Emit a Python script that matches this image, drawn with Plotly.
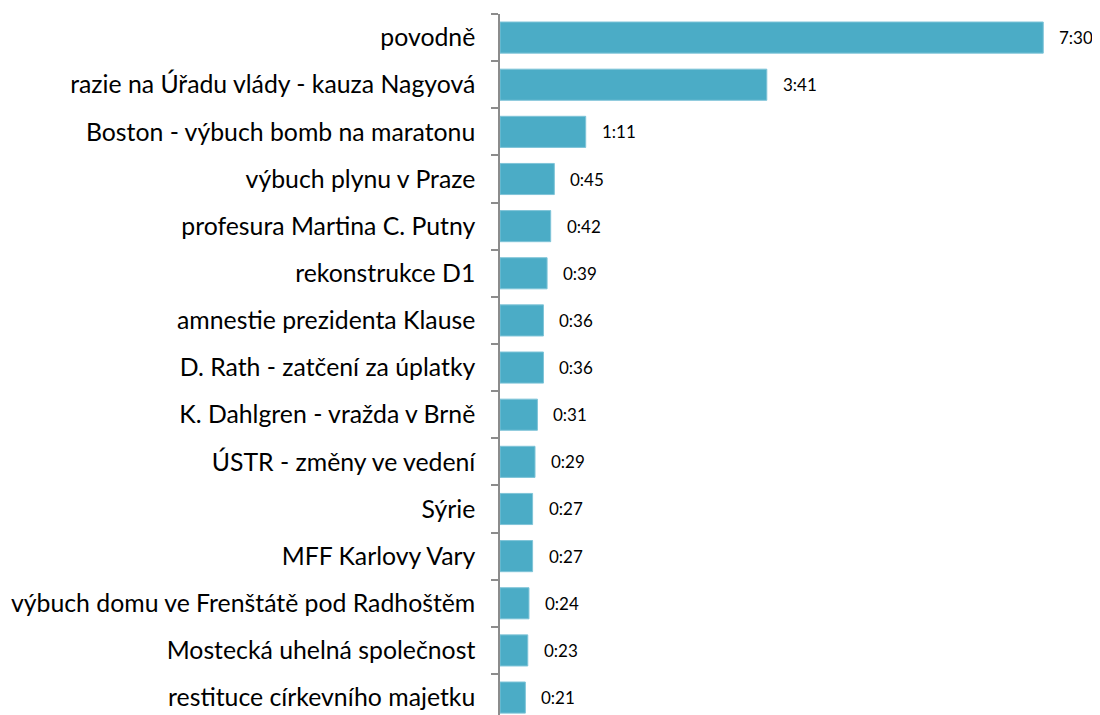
import plotly.graph_objects as go

categories = [
    "povodně",
    "razie na Úřadu vlády - kauza Nagyová",
    "Boston - výbuch bomb na maratonu",
    "výbuch plynu v Praze",
    "profesura Martina C. Putny",
    "rekonstrukce D1",
    "amnestie prezidenta Klause",
    "D. Rath - zatčení za úplatky",
    "K. Dahlgren - vražda v Brně",
    "ÚSTR - změny ve vedení",
    "Sýrie",
    "MFF Karlovy Vary",
    "výbuch domu ve Frenštátě pod Radhoštěm",
    "Mostecká uhelná společnost",
    "restituce církevního majetku",
]
time_labels = ["7:30", "3:41", "1:11", "0:45", "0:42", "0:39", "0:36", "0:36",
               "0:31", "0:29", "0:27", "0:27", "0:24", "0:23", "0:21"]
seconds = [int(t.split(":")[0]) * 60 + int(t.split(":")[1]) for t in time_labels]

FONT = "Lato"

fig = go.Figure()
fig.add_trace(go.Bar(
    x=seconds, y=categories, orientation="h",
    marker=dict(color="#4BACC6", line=dict(color="#7FC4D8", width=1)),
    hoverinfo="skip",
))
for c, s, t in zip(categories, seconds, time_labels):
    fig.add_annotation(x=s, y=c, text=t, showarrow=False, xanchor="left",
                       xshift=14,
                       font=dict(size=17, color="#000000", family=FONT))

fig.update_layout(
    width=1092, height=707,
    margin=dict(l=492, r=0, t=6, b=0),
    plot_bgcolor="white", paper_bgcolor="white",
    bargap=0.34, showlegend=False,
    font=dict(family=FONT, color="#000000"),
)
fig.update_xaxes(range=[0, 497], visible=False)
fig.update_yaxes(
    type="category", range=[14.37, -0.5],
    showline=True, linecolor="#8C8C8C", linewidth=1.5,
    ticks="outside", ticklen=7, tickcolor="#8C8C8C", tickwidth=1.5,
    tickson="boundaries", showgrid=False,
    tickfont=dict(size=24.8, family=FONT, color="#000000"),
    ticklabelstandoff=18,
)
fig.write_html("out.html")
